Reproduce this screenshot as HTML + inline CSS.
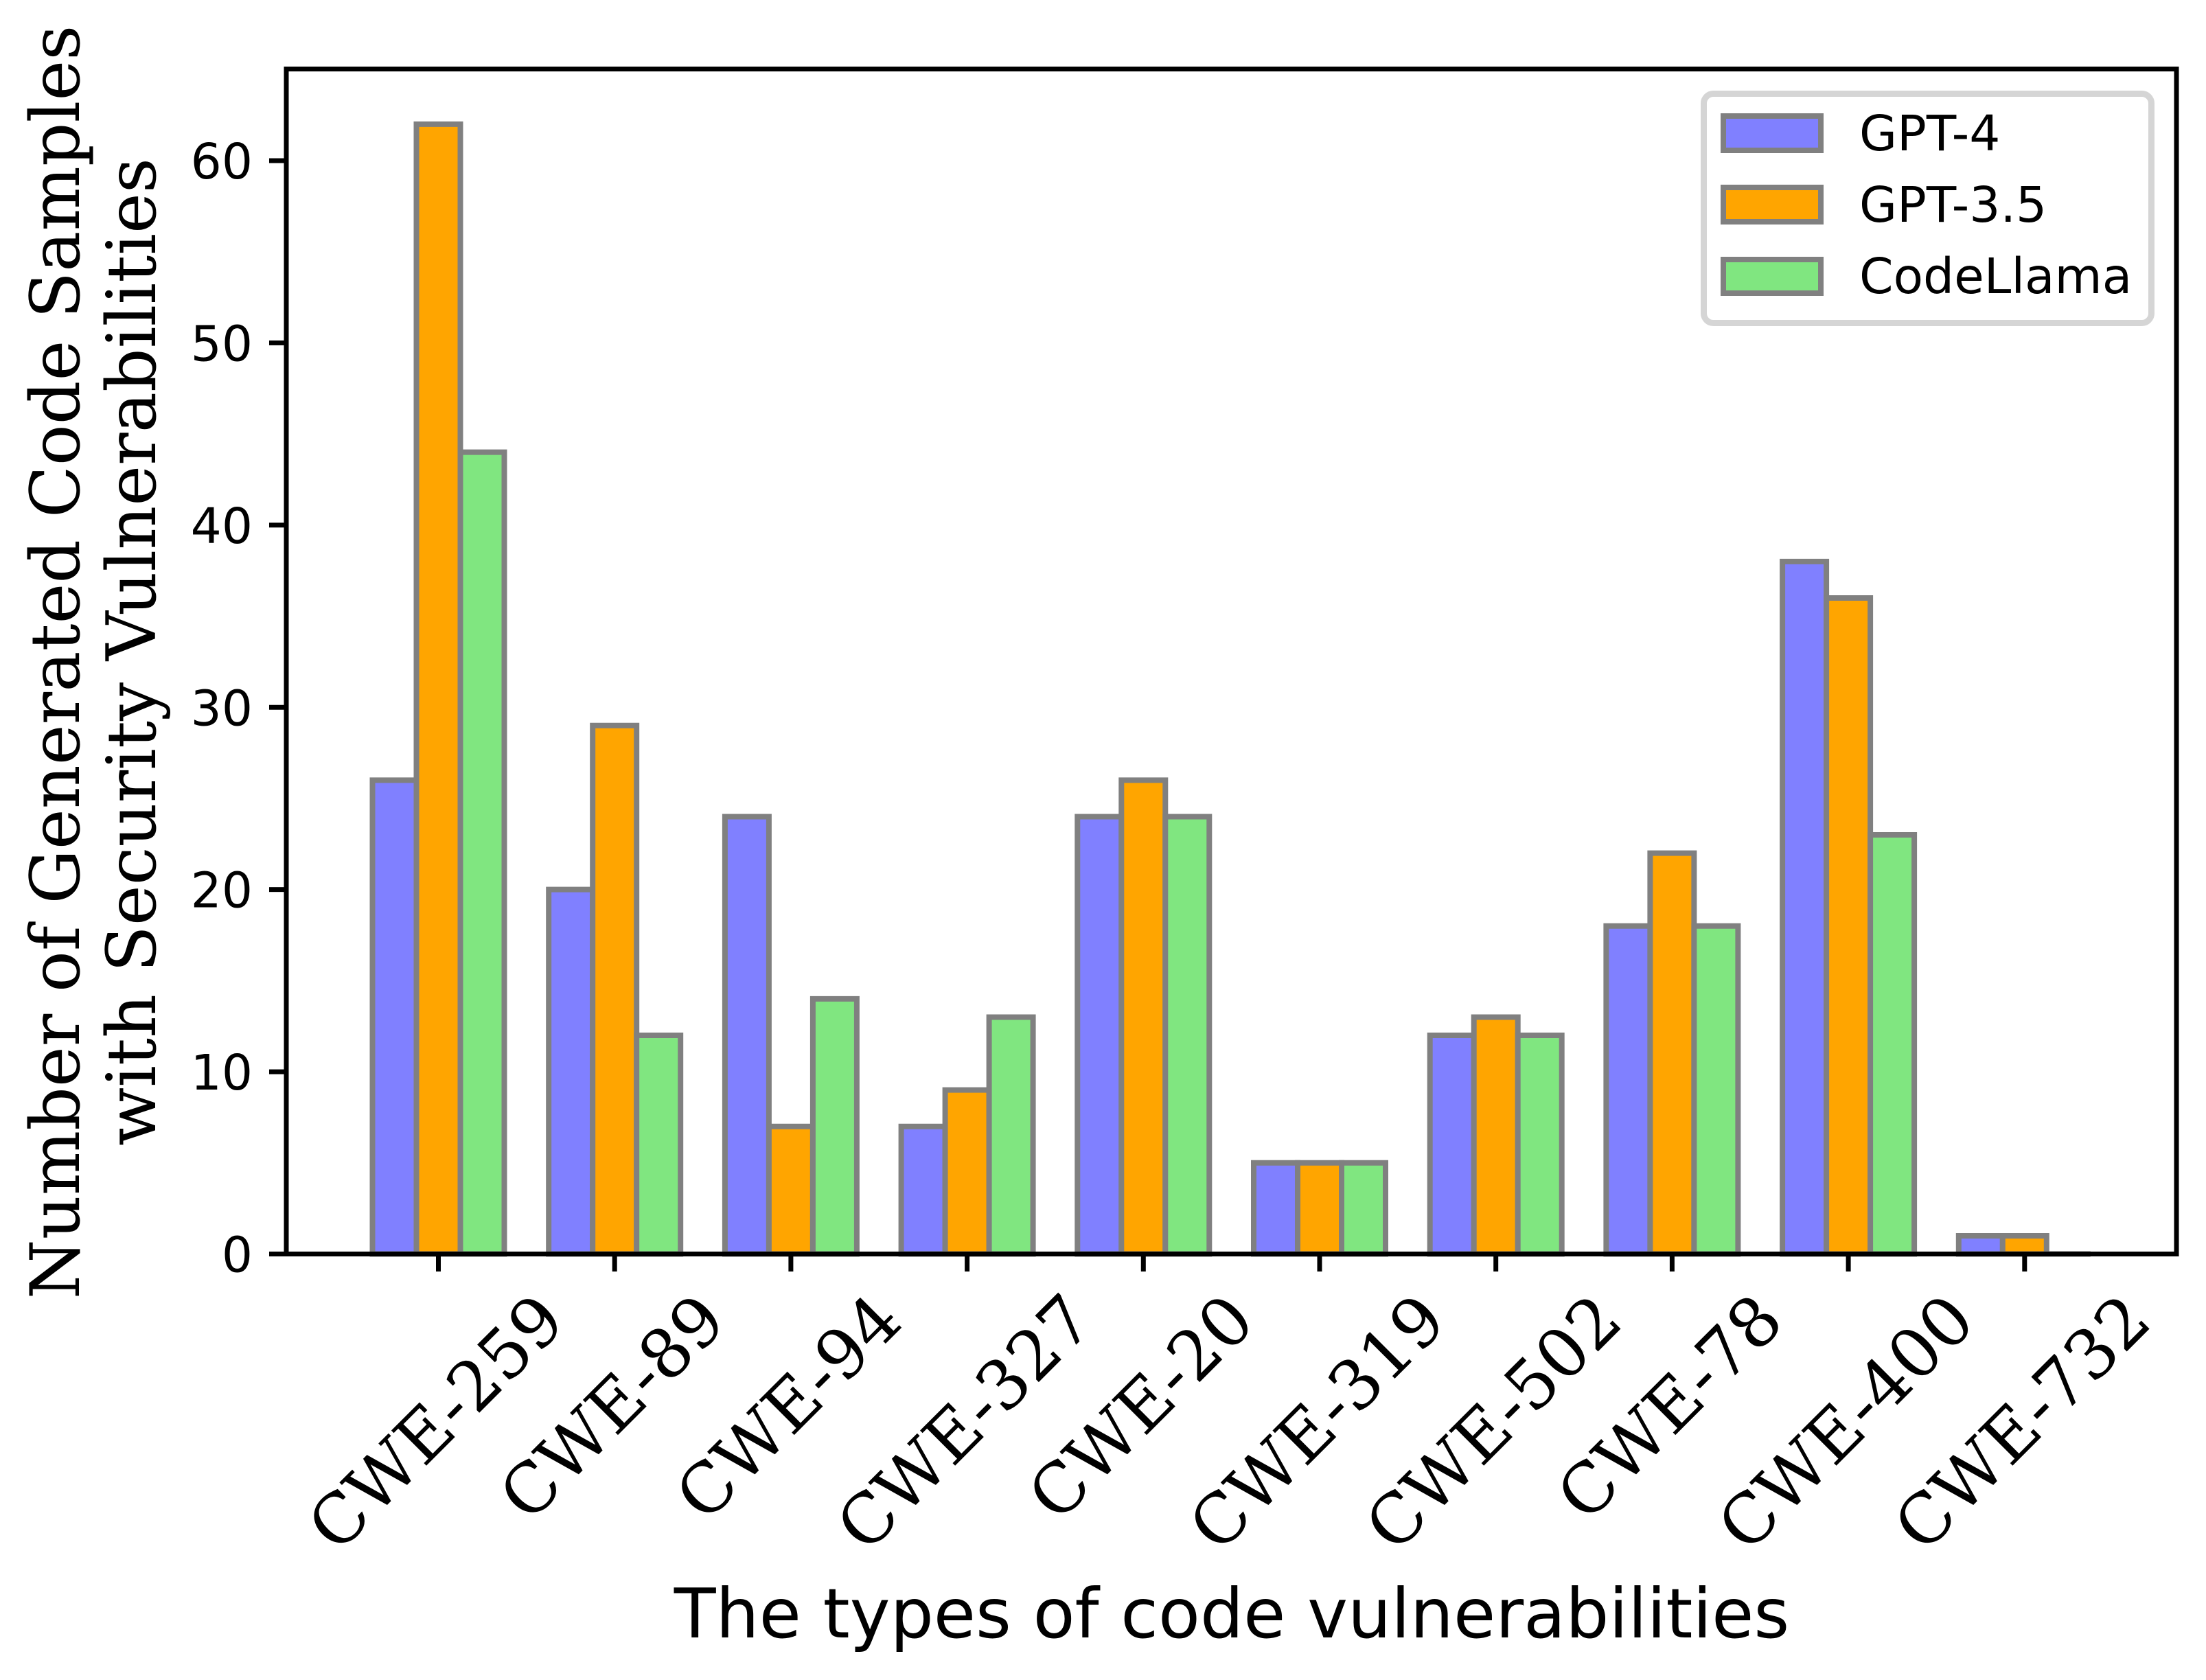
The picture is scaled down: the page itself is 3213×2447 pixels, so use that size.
<!DOCTYPE html>
<html lang="en">
<head>
<meta charset="utf-8">
<title>Code vulnerabilities by model</title>
<style>
html,body{margin:0;padding:0;background:#fff;}
svg{display:block;}
.sans{font-family:"DejaVu Sans","Liberation Sans",sans-serif;}
.serif{font-family:"DejaVu Serif","Liberation Serif",serif;}
</style>
</head>
<body>
<svg id="chart" xmlns="http://www.w3.org/2000/svg" width="3213" height="2447" viewBox="0 0 3213 2447">
  <rect x="0" y="0" width="3213" height="2447" fill="#ffffff"/>
  <g id="bars"></g>
  <g id="yticks"></g>
  <g id="xticks"></g>
  <rect x="417" y="100.5" width="2753" height="1726" fill="none" stroke="#000" stroke-width="7"/>
  <g>
    <rect x="2481.5" y="136.5" width="652" height="334" rx="14" ry="14" fill="#fff" stroke="#d5d5d5" stroke-width="9"/>
    <g>
      <rect x="2510" y="169" width="142" height="50" fill="#8080ff" stroke="#808080" stroke-width="8"/>
      <text class="sans" x="2708" y="219" font-size="71" fill="#000">GPT-4</text>
    </g>
    <g>
      <rect x="2510" y="273" width="142" height="50" fill="#ffa500" stroke="#808080" stroke-width="8"/>
      <text class="sans" x="2708" y="323" font-size="71" fill="#000">GPT-3.5</text>
    </g>
    <g>
      <rect x="2510" y="378" width="142" height="49" fill="#80e680" stroke="#808080" stroke-width="8"/>
      <text class="sans" x="2708" y="427" font-size="71" fill="#000">CodeLlama</text>
    </g>
  </g>
  <text class="sans" x="1794" y="2385" font-size="99.6" text-anchor="middle" fill="#000">The types of code vulnerabilities</text>
  <text class="serif" transform="translate(115,964.5) rotate(-90)" font-size="99.5" text-anchor="middle" fill="#000">Number of Generated Code Samples</text>
  <text class="serif" transform="translate(226,949.5) rotate(-90)" font-size="99.5" text-anchor="middle" fill="#000">with Security Vulnerabilities</text>
</svg>
<script>
const categories = ['CWE-259','CWE-89','CWE-94','CWE-327','CWE-20','CWE-319','CWE-502','CWE-78','CWE-400','CWE-732'];
const gpt4Values = [26,20,24,7,24,5,12,18,38,1];
const gpt35Values = [62,29,7,9,26,5,13,22,36,1];
const codeLlamaValues = [44,12,14,13,24,5,12,18,23,0];
const yTickValues = [0,10,20,30,40,50,60];

const NS = 'http://www.w3.org/2000/svg';
const plotTop = 100.5, plotBottom = 1826.5;
const yMax = 65.03;
const firstTick = 638.5, tickStep = 256.7, barWidth = 64;
const xScale = function (i) { return firstTick + i * tickStep; };
const yScale = function (v) { return plotBottom - (v / yMax) * (plotBottom - plotTop); };

const seriesList = [
  { key: 'gpt-4', values: gpt4Values, color: '#8080ff', offset: -1 },
  { key: 'gpt-3-5', values: gpt35Values, color: '#ffa500', offset: 0 },
  { key: 'codellama', values: codeLlamaValues, color: '#80e680', offset: 1 }
];

function make(tag, parent) {
  const el = document.createElementNS(NS, tag);
  parent.appendChild(el);
  return el;
}

const barsGroup = document.getElementById('bars');
seriesList.forEach(function (s) {
  s.values.forEach(function (v, i) {
    const p = make('path', barsGroup);
    
    
    const left = xScale(i) + s.offset * barWidth - barWidth / 2;
    p.setAttribute('d', 'M' + left + ' ' + plotBottom + 'V' + yScale(v) + 'H' + (left + barWidth) + 'V' + plotBottom + 'Z');
    p.setAttribute('fill', s.color);
    p.setAttribute('stroke', '#808080');
    p.setAttribute('stroke-width', 8);
  });
});

const yTicksGroup = document.getElementById('yticks');
yTickValues.forEach(function (v) {
  const t = make('rect', yTicksGroup);
  
  
  t.setAttribute('x', 392);
  t.setAttribute('y', yScale(v) - 3.5);
  t.setAttribute('width', 25);
  t.setAttribute('height', 7);
  t.setAttribute('fill', '#000');
  const l = make('text', yTicksGroup);
  
  
  l.setAttribute('class', 'sans');
  l.setAttribute('x', 368);
  l.setAttribute('y', yScale(v) + 26);
  l.setAttribute('font-size', 71);
  l.setAttribute('text-anchor', 'end');
  l.setAttribute('fill', '#000');
  l.textContent = String(v);
});

const xTicksGroup = document.getElementById('xticks');
categories.forEach(function (c, i) {
  const t = make('rect', xTicksGroup);
  
  
  t.setAttribute('x', xScale(i) - 3.5);
  t.setAttribute('y', plotBottom);
  t.setAttribute('width', 7);
  t.setAttribute('height', 25.5);
  t.setAttribute('fill', '#000');
  const l = make('text', xTicksGroup);
  
  
  l.setAttribute('class', 'serif');
  l.setAttribute('font-size', 99.2);
  l.setAttribute('text-anchor', 'middle');
  l.setAttribute('fill', '#000');
  l.textContent = c;
  const len = l.getComputedTextLength();
  const halfBox = (len + 73) * Math.SQRT1_2 / 2;
  const cy = 1877 + halfBox;
  const perp = 36.5;
  l.setAttribute('transform', 'translate(' + (xScale(i) - 5 + perp * Math.SQRT1_2) + ',' + (cy + perp * Math.SQRT1_2) + ') rotate(-45)');
});
</script>
</body>
</html>
